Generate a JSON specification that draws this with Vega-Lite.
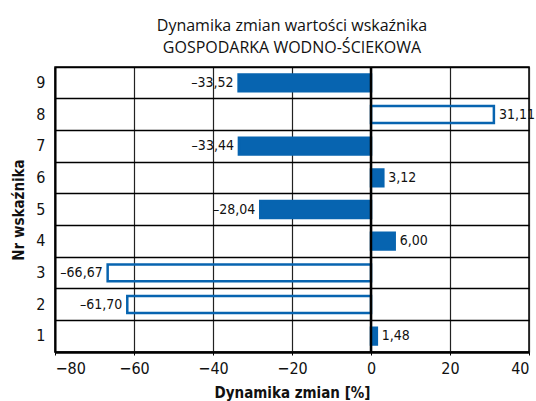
{
  "$schema": "https://vega.github.io/schema/vega-lite/v6.json",
  "autosize": "none",
  "width": 474,
  "height": 285,
  "padding": {"left": 55, "top": 67, "right": 7, "bottom": 49},
  "background": "white",
  "title": {
    "text": ["Dynamika zmian wartości wskaźnika", "GOSPODARKA WODNO-ŚCIEKOWA"],
    "font": "Open Sans",
    "fontSize": 16,
    "fontWeight": "normal",
    "color": "#111",
    "lineHeight": 22,
    "anchor": "middle",
    "offset": 10
  },
  "config": {
    "view": {"stroke": "black", "strokeWidth": 1.5},
    "axis": {
      "labelFont": "'DejaVu Sans Condensed', 'Liberation Sans Narrow', 'Roboto Condensed', Roboto, sans-serif",
      "labelFontSize": 16,
      "labelColor": "#111",
      "titleFont": "'DejaVu Sans Condensed', 'Liberation Sans Narrow', 'Roboto Condensed', Roboto, sans-serif",
      "titleFontSize": 15,
      "titleFontWeight": "bold",
      "titleColor": "#111"
    }
  },
  "data": {
    "values": [
      {"nr": "1", "wartosc": 1.48, "etykieta": "1,48", "grupa": "A"},
      {"nr": "2", "wartosc": -61.70, "etykieta": "–61,70", "grupa": "B"},
      {"nr": "3", "wartosc": -66.67, "etykieta": "–66,67", "grupa": "B"},
      {"nr": "4", "wartosc": 6.00, "etykieta": "6,00", "grupa": "A"},
      {"nr": "5", "wartosc": -28.04, "etykieta": "–28,04", "grupa": "A"},
      {"nr": "6", "wartosc": 3.12, "etykieta": "3,12", "grupa": "A"},
      {"nr": "7", "wartosc": -33.44, "etykieta": "–33,44", "grupa": "A"},
      {"nr": "8", "wartosc": 31.11, "etykieta": "31,11", "grupa": "B"},
      {"nr": "9", "wartosc": -33.52, "etykieta": "–33,52", "grupa": "A"}
    ]
  },
  "encoding": {
    "y": {
      "field": "nr",
      "type": "nominal",
      "sort": "descending",
      "title": "Nr wskaźnika",
      "scale": {"paddingInner": 0, "paddingOuter": 0},
      "axis": {
        "ticks": false,
        "labelAngle": 0,
        "labelPadding": 10,
        "grid": true,
        "bandPosition": 0,
        "gridColor": "black",
        "gridWidth": 1.5,
        "gridOpacity": 1,
        "domainColor": "black",
        "domainWidth": 2,
        "titlePadding": 9
      }
    },
    "x": {
      "field": "wartosc",
      "type": "quantitative",
      "title": "Dynamika zmian [%]",
      "scale": {"domain": [-80, 40], "nice": false},
      "axis": {
        "values": [-80, -60, -40, -20, 0, 20, 40],
        "format": "d",
        "grid": true,
        "gridColor": "#222",
        "gridWidth": 1.2,
        "gridOpacity": 1,
        "tickColor": "black",
        "tickSize": 3,
        "domainColor": "black",
        "domainWidth": 2.5,
        "labelPadding": 5,
        "titlePadding": 9
      }
    }
  },
  "layer": [
    {
      "mark": {"type": "bar", "stroke": "#0764b0", "strokeWidth": 2.5, "height": {"band": 0.53}},
      "encoding": {
        "fill": {
          "field": "grupa",
          "type": "nominal",
          "scale": {"domain": ["A", "B"], "range": ["#0764b0", "rgba(255,255,255,0)"]},
          "legend": null
        }
      }
    },
    {
      "mark": {"type": "rule", "color": "black", "strokeWidth": 2.5},
      "data": {"values": [{"zero": 0}]},
      "encoding": {
        "x": {"field": "zero", "type": "quantitative"},
        "y": {"value": 0},
        "y2": {"value": 285}
      }
    },
    {
      "transform": [{"filter": "datum.wartosc < 0"}],
      "mark": {"type": "text", "align": "right", "dx": -5, "font": "'DejaVu Sans Condensed', 'Liberation Sans Narrow', 'Roboto Condensed', Roboto, sans-serif", "fontSize": 14, "color": "#111"},
      "encoding": {"text": {"field": "etykieta"}}
    },
    {
      "transform": [{"filter": "datum.wartosc >= 0"}],
      "mark": {"type": "text", "align": "left", "dx": 5, "font": "'DejaVu Sans Condensed', 'Liberation Sans Narrow', 'Roboto Condensed', Roboto, sans-serif", "fontSize": 14, "color": "#111"},
      "encoding": {"text": {"field": "etykieta"}}
    }
  ]
}
